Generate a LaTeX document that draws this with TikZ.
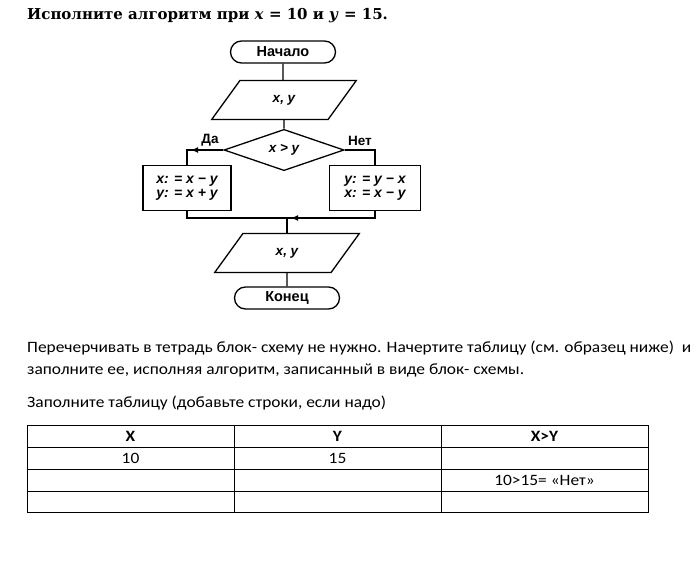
\documentclass[tikz,border=0pt]{standalone}
\usepackage{fontspec}
\setmainfont{Carlito}[FakeStretch=1.1]
\newfontfamily\titlefont{DejaVu Serif}
\newfontfamily\chartfont{Liberation Sans}
\usetikzlibrary{arrows.meta,shapes.geometric,shapes.misc,calc}

\begin{document}
\begin{tikzpicture}[
  x=1pt, y=-1pt,
  font=\fontsize{15.8}{18}\selectfont,
  ln/.style={line width=1.3pt},
  a/.style={-{Latex[length=7pt,width=6pt]}, line width=1.3pt},
  term/.style={draw, ln, rounded rectangle, minimum width=105pt,
    minimum height=22pt, inner sep=0pt,
    font=\chartfont\bfseries\fontsize{14.5}{16}\selectfont},
  io/.style={draw, ln, trapezium, trapezium left angle=54,
    trapezium right angle=126, trapezium stretches,
    minimum width=145pt, minimum height=39pt, inner sep=0pt,
    font=\chartfont\bfseries\itshape\fontsize{13.5}{15}\selectfont},
  test/.style={draw, ln, diamond, minimum width=120pt, minimum height=37pt,
    inner sep=0pt, font=\chartfont\bfseries\itshape\fontsize{13.5}{15}\selectfont},
  act/.style={draw, ln, rectangle, minimum height=45pt, inner sep=0pt,
    align=center, font=\chartfont\bfseries\itshape\fontsize{14}{13}\selectfont},
  lbl/.style={font=\chartfont\bfseries\fontsize{13.5}{15}\selectfont, inner sep=1pt},
  cell/.style={inner sep=0pt},
  head/.style={inner sep=0pt, font=\fontsize{15.8}{18}\selectfont\bfseries}]

\useasboundingbox[fill=white] (0,0) rectangle (696,564);

% =================== title ===============================================
\node[anchor=west, inner sep=0pt, font=\titlefont\bfseries\fontsize{15}{17}\selectfont]
  (title) at (27,16) {Исполните алгоритм при \textit{x} = 10 и \textit{y} = 15.};

% =================== the flow chart ======================================
\node[term] (start) at (283,52) {Начало};
\node[io] (in) at (284,100) {x, y};
\node[test] (cond) at (284,150) {x > y};
\node[act, minimum width=88pt] (yes) at (187,188) {x: = x − y\\[1pt]y: = x + y};
\node[act, minimum width=91pt] (no) at (375,188) {y: = y − x\\[1pt]x: = x − y};
\coordinate (merge) at (287,218);
\node[io] (out) at (287,253) {x, y};
\node[term] (stop) at (287,298) {Конец};

\node[lbl, anchor=south] (da) at (210,147) {Да};
\node[lbl, anchor=south] (net) at (360,147) {Нет};

\draw[ln] (start) -- (start |- in.north);
\draw[ln] (in) -- (cond);
\draw[ln] (cond.west) -| (yes.north);
\draw[a] (cond.west) -- ([xshift=4pt]cond.west -| yes.north);
\draw[ln] (cond.east) -| (no.north);
\draw[ln] (yes.south) |- (merge);
\draw[ln] (no.south) |- (merge);
\draw[a] (no.south |- merge) -- ([xshift=4pt]merge);
\draw[ln] (merge) -- (merge |- out.north);
\draw[ln] (out) -- (stop);

% =================== the task text =======================================
\node[anchor=west, inner sep=0pt] (task1) at (27,348)
  {Перечерчивать в тетрадь блок- схему не нужно. Начертите таблицу (см. образец ниже) \ и};
\node[anchor=west, inner sep=0pt] (task2) at (27,370)
  {заполните ее, исполняя алгоритм, записанный в виде блок- схемы.};
\node[anchor=west, inner sep=0pt] (task3) at (27,403)
  {Заполните таблицу (добавьте строки, если надо)};

% =================== the table ===========================================
\draw[line width=0.8pt] (27,425) rectangle (648,512);
\foreach \ry in {447,469,491} { \draw[line width=0.8pt] (27,\ry) -- (648,\ry); }
\foreach \cx in {234,441} { \draw[line width=0.8pt] (\cx,425) -- (\cx,512); }

\node[head] (hx) at (130.5,436) {X};
\node[head] (hy) at (337.5,436) {Y};
\node[head] (hxy) at (544.5,436) {X>Y};
\node[cell] (vx) at (130.5,458) {10};
\node[cell] (vy) at (337.5,458) {15};
\node[cell] (vxy) at (544.5,480) {10>15= «Нет»};
\end{tikzpicture}
\end{document}
